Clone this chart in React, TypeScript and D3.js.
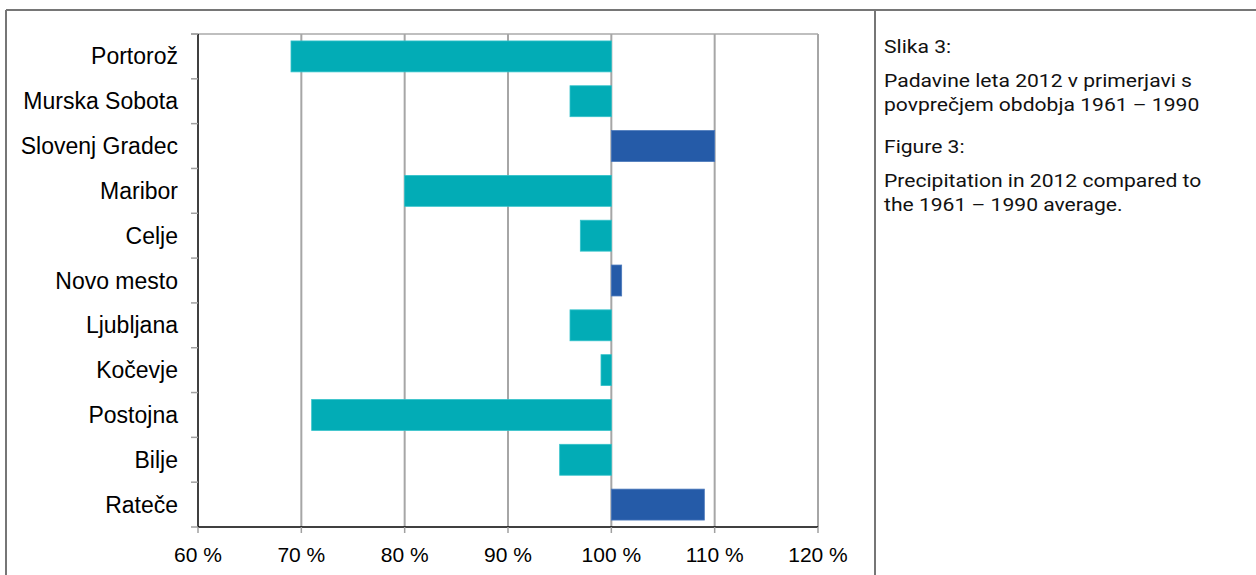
import React from "react";
import * as d3 from "d3";

const stations = ["Portorož", "Murska Sobota", "Slovenj Gradec", "Maribor", "Celje", "Novo mesto", "Ljubljana", "Kočevje", "Postojna", "Bilje", "Rateče"];
const precipPct = [69, 96, 110, 80, 97, 101, 96, 99, 71, 95, 109];
const xTicks = [60, 70, 80, 90, 100, 110, 120];
const captionLines = [
  { text: "Slika 3:", y: 53 },
  { text: "Padavine leta 2012 v primerjavi s", y: 87 },
  { text: "povprečjem obdobja 1961 – 1990", y: 111 },
  { text: "Figure 3:", y: 153 },
  { text: "Precipitation in 2012 compared to", y: 187 },
  { text: "the 1961 – 1990 average.", y: 211 },
];

const BASE = 100;
const TEAL = "#02acb6";
const BLUE = "#255ba8";

export default function App() {
  const W = 1256, H = 575;
  const left = 198, right = 818, top = 34, bottom = 527;
  const x = d3.scaleLinear().domain([60, 120]).range([left, right]);
  const y = d3.scaleBand<string>().domain(stations).range([top, bottom]).paddingInner(0.31).paddingOuter(0.155);
  const bounds = d3.range(stations.length + 1).map((i) => top + i * ((bottom - top) / stations.length));

  return (
    <svg width={W} height={H} style={{ position: "absolute", left: 0, top: 0, background: "#fff" }}>
      {/* frame */}
      <line x1={6} x2={W} y1={10} y2={10} stroke="#767676" strokeWidth={2} />
      <line x1={6} x2={6} y1={10} y2={H} stroke="#767676" strokeWidth={2} />
      <line x1={875} x2={875} y1={10} y2={H} stroke="#767676" strokeWidth={2} />

      {/* top border of plot */}
      <line x1={191} x2={right} y1={top} y2={top} stroke="#bfbfbf" strokeWidth={2} />
      {/* gridlines */}
      {xTicks.slice(1).map((t) => (
        <line key={t} x1={x(t)} x2={x(t)} y1={top} y2={bottom} stroke="#a6a6a6" strokeWidth={2} />
      ))}

      {/* bars */}
      {stations.map((s, i) => {
        const v = precipPct[i];
        const x0 = x(Math.min(v, BASE));
        const x1 = x(Math.max(v, BASE));
        return (
          <rect key={s} x={x0} y={y(s)!} width={x1 - x0} height={y.bandwidth()}
            fill={v >= BASE ? BLUE : TEAL} stroke={v >= BASE ? "#4a78bb" : "#33c2ca"} strokeWidth={0.8} />
        );
      })}

      {/* y axis */}
      <line x1={left} x2={left} y1={top} y2={bottom} stroke="#000" strokeWidth={1.5} />
      {bounds.map((b, i) => (
        <line key={i} x1={191} x2={left} y1={b} y2={b} stroke="#a0a0a0" strokeWidth={1.5} />
      ))}
      {stations.map((s) => (
        <text key={s} x={178} y={y(s)! + y.bandwidth() / 2 + 8} textAnchor="end"
          fontFamily="Liberation Sans, Arial, sans-serif" fontSize={23} fill="#000">{s}</text>
      ))}

      {/* x axis */}
      <line x1={left} x2={right} y1={bottom} y2={bottom} stroke="#000" strokeWidth={1.5} />
      {xTicks.map((t) => (
        <g key={t}>
          <line x1={x(t)} x2={x(t)} y1={bottom} y2={bottom + 6} stroke="#a0a0a0" strokeWidth={1.5} />
          <text x={x(t)} y={562} textAnchor="middle" fontFamily="Liberation Sans, Arial, sans-serif"
            fontSize={21} fill="#000">{`${t} %`}</text>
        </g>
      ))}

      {/* caption */}
      <g transform="translate(884,0) scale(1.11,1)">
        {captionLines.map((l) => (
          <text key={l.text} x={0} y={l.y} fontFamily="Roboto, sans-serif" fontSize={19} fill="#111">{l.text}</text>
        ))}
      </g>
    </svg>
  );
}
